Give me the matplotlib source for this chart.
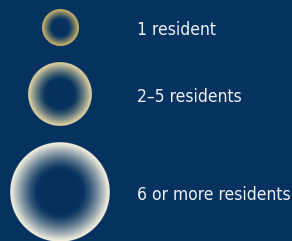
import numpy as np
import matplotlib
matplotlib.use("Agg")
import matplotlib.pyplot as plt
from matplotlib.colors import to_rgb

# Legend data
labels = ["1 resident", "2\u20135 residents", "6 or more residents"]
radii = [18.5, 32, 50]
rim_colors = ["#d8bd6c", "#eadba6", "#fdf9e6"]

BG = "#06325f"
W, H = 292, 241

fig = plt.figure(figsize=(W / 100, H / 100), dpi=100)
fig.patch.set_facecolor(BG)
ax = fig.add_axes([0, 0, 1, 1])
ax.set_facecolor(BG)
ax.set_xlim(0, W)
ax.set_ylim(H, 0)
ax.axis("off")

cx = 60
top = 9
gap = 16
N = 400
u = np.linspace(-1, 1, N)
uu, vv = np.meshgrid(u, u)
rho = np.sqrt(uu ** 2 + vv ** 2)
bg = np.array(to_rgb(BG))

y = top
for lab, r, rc in zip(labels, radii, rim_colors):
    cy = y + r
    t = np.clip((rho - 0.45) / 0.55, 0, 1) ** 1.3
    rim = np.array(to_rgb(rc))
    img = np.zeros((N, N, 4))
    img[..., :3] = bg * (1 - t[..., None]) + rim * t[..., None]
    img[..., 3] = np.clip((1 - rho) * N / 2, 0, 1)
    ax.imshow(img, extent=(cx - r, cx + r, cy + r, cy - r), origin="upper",
              interpolation="antialiased", zorder=2)
    ax.text(137, cy + 7.5, lab, color="#eef1f5", fontsize=12.5,
            fontfamily="DejaVu Sans", fontstretch="condensed",
            va="baseline", ha="left", zorder=3)
    y = cy + r + gap

ax.set_xlim(0, W)
ax.set_ylim(H, 0)
fig.savefig("out.png", dpi=100, facecolor=BG)
